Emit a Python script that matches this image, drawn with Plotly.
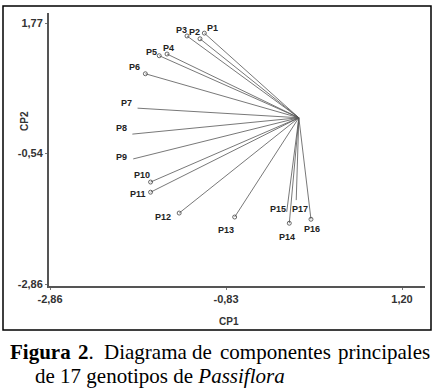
import plotly.graph_objects as go

# ---- data ----
genotypes = ["P1", "P2", "P3", "P4", "P5", "P6", "P7", "P8", "P9", "P10",
             "P11", "P12", "P13", "P14", "P15", "P16", "P17"]
cp1 = [-1.08, -1.13, -1.28, -1.51, -1.60, -1.76, -1.85, -1.91, -1.90, -1.70,
       -1.70, -1.37, -0.73, -0.10, -0.13, 0.15, -0.02]
cp2 = [1.59, 1.49, 1.54, 1.22, 1.19, 0.87, 0.26, -0.20, -0.64, -1.05,
       -1.23, -1.60, -1.67, -1.78, -1.58, -1.71, -1.37]
has_marker = [1, 1, 1, 1, 1, 1, 0, 0, 0, 1, 1, 1, 1, 1, 0, 1, 0]
center = (0.01, 0.09)

x_tickvals = [-2.86, -0.83, 1.20]
x_ticktext = ["-2,86", "-0,83", "1,20"]
y_tickvals = [1.77, -0.54, -2.86]
y_ticktext = ["1,77", "-0,54", "-2,86"]

# label offsets in pixels (dx right, dy down)
label_dx = [8, -5, -5, 1, -8, -11, -11, -11, -12, -9, -13, -16, -9, -2, -9, 1, 4]
label_dy = [-5, -7, -6, -6, -4, -7, -5, -6, -2, -7, 2, 4, 13, 14, -3, 10, 9]

W, H = 436, 391
L, R, T, B = 49, 425, 13, 286  # plot area in px


def px(xp):
    return (xp - L) / (R - L)


def py(yp):
    return (B - yp) / (B - T)


# segments from the centre to every genotype
lx, ly = [], []
for x, y in zip(cp1, cp2):
    lx += [center[0], x, None]
    ly += [center[1], y, None]

fig = go.Figure()
fig.add_trace(go.Scatter(x=lx, y=ly, mode="lines",
                         line=dict(color="#555555", width=0.8),
                         hoverinfo="skip", showlegend=False))
mx = [x for x, m in zip(cp1, has_marker) if m]
my = [y for y, m in zip(cp2, has_marker) if m]
fig.add_trace(go.Scatter(x=mx, y=my, mode="markers",
                         marker=dict(symbol="circle-open", size=4,
                                     color="#444444", line=dict(width=0.8)),
                         hoverinfo="skip", showlegend=False))

ann = []
lab_font = dict(family="Liberation Sans", size=9, color="#222222", weight="bold")
for name, x, y, dx, dy in zip(genotypes, cp1, cp2, label_dx, label_dy):
    ann.append(dict(x=x, y=y, text=name, showarrow=False, xshift=dx, yshift=-dy,
                    font=lab_font, xanchor="center", yanchor="middle"))

# axis titles
title_font = dict(family="Liberation Sans", size=10, color="#333333", weight="bold")
ann.append(dict(x=px(229), y=py(321), xref="paper", yref="paper", text="CP1",
                showarrow=False, xanchor="center", yanchor="middle", font=title_font))
ann.append(dict(x=px(24), y=py(121), xref="paper", yref="paper", text="CP2",
                showarrow=False, textangle=-90, xanchor="center", yanchor="middle",
                font=title_font))

# caption (first line justified word by word)
cap_font = dict(family="Liberation Serif", size=21, color="#000000")
line1 = [("<b>Figura</b>", 8), ("<b>2</b>.", 76), ("Diagrama", 102), ("de", 190),
         ("componentes", 218)]
for txt, xl in line1:
    ann.append(dict(x=px(xl), y=py(352), xref="paper", yref="paper", text=txt,
                    showarrow=False, xanchor="left", yanchor="middle", font=cap_font))
ann.append(dict(x=px(432), y=py(352), xref="paper", yref="paper", text="principales",
                showarrow=False, xanchor="right", yanchor="middle", font=cap_font))
ann.append(dict(x=px(33), y=py(376), xref="paper", yref="paper",
                text="de 17 genotipos de <i>Passiflora</i>",
                showarrow=False, xanchor="left", yanchor="middle", font=cap_font))

# x: px = 50 + (x+2.86)*86.7 ; y: py = 23 + (1.77-y)*56.4
xr = [(L - 50) / 86.7 - 2.86, (R - 50) / 86.7 - 2.86]
yr = [1.77 - (B - 23) / 56.4, 1.77 - (T - 23) / 56.4]

axis_font = dict(family="Liberation Sans", size=11, color="#333333", weight="bold")
fig.update_layout(
    width=W, height=H,
    margin=dict(l=L, r=W - R, t=T, b=H - B),
    paper_bgcolor="white", plot_bgcolor="white",
    hovermode=False,
    annotations=ann,
    xaxis=dict(range=xr, showgrid=False, zeroline=False, showline=True,
               linecolor="#555555", linewidth=1.5, ticks="outside", ticklen=2,
               tickcolor="#777777", tickvals=x_tickvals, ticktext=x_ticktext,
               tickfont=axis_font),
    yaxis=dict(range=yr, showgrid=False, zeroline=False, showline=True,
               linecolor="#555555", linewidth=2, ticks="outside", ticklen=2,
               tickcolor="#777777", tickvals=y_tickvals, ticktext=y_ticktext,
               tickfont=axis_font),
    shapes=[dict(type="rect", xref="paper", yref="paper",
                 x0=px(3), x1=px(431), y0=py(330), y1=py(6),
                 line=dict(color="black", width=1.5))],
)

fig.write_html("out.html", config={"displayModeBar": False},
               post_script="document.body.style.margin='0px';"
                           "document.body.style.overflow='hidden';")
